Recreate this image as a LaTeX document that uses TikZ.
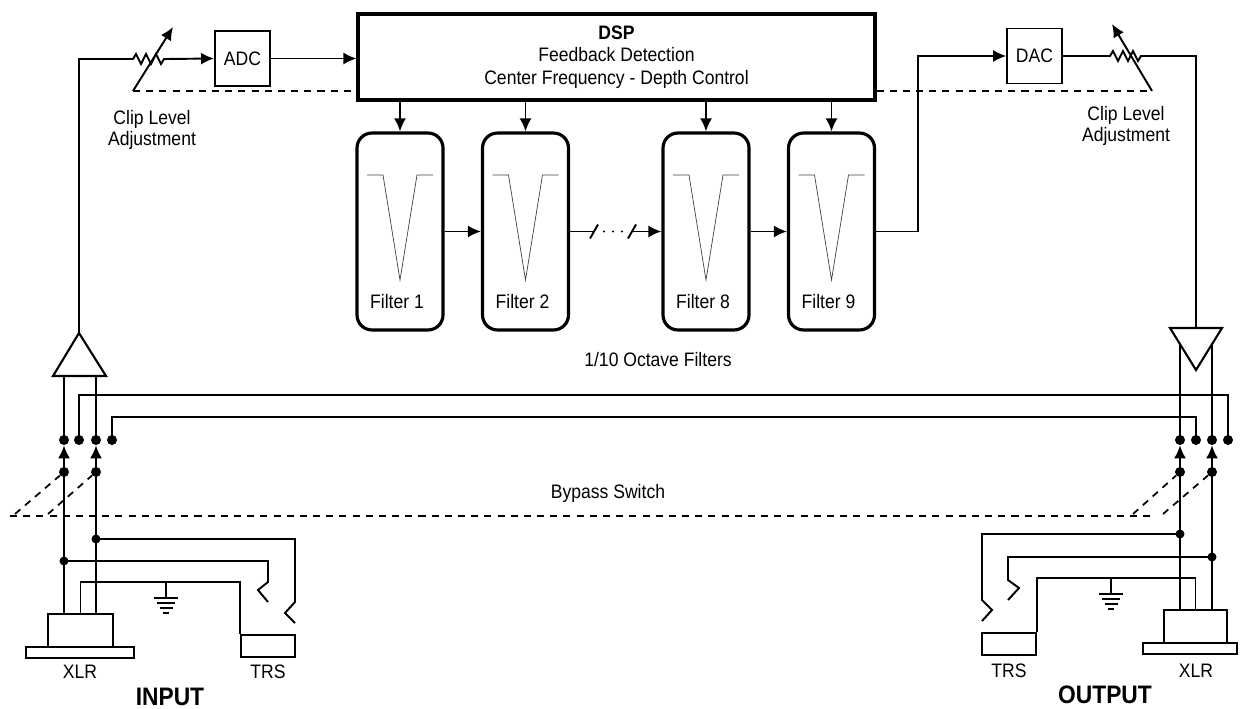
\documentclass[tikz,border=0pt]{standalone}
\usepackage{fontspec}
\setmainfont[FakeStretch=0.9]{Liberation Sans}
\usetikzlibrary{arrows.meta,calc,positioning,shapes}
\tikzset{%
	unit/.style       = {draw, rectangle, line width=1.1pt, minimum width=1.1cm, minimum height=1.1cm, text centered},
	dspunit/.style    = {draw, rectangle, line width=1.8pt, minimum width=10.34cm, minimum height=1.72cm, align=center, font=\fontsize{11.1}{12.8}\selectfont},
	filterunit/.style = {draw, rectangle, rounded corners=0.3cm, line width=1.8pt, minimum width=1.72cm, minimum height=3.94cm},
	jack/.style       = {draw, rectangle, line width=1pt, inner sep=0pt},
	wire/.style       = {line width=1.1pt},
	arrow/.style      = {wire,-{Latex[length=0.26cm,width=0.24cm]}},
	linkage/.style    = {line width=1pt, dash pattern=on 4pt off 3.5pt},
	notch/.style      = {line width=0.4pt, black!75},
	contact/.style    = {circle, fill, inner sep=0pt, minimum size=0.2cm},
	caption/.style    = {align=center, font=\fontsize{11.1}{12}\selectfont},
	endlabel/.style   = {font=\fontsize{14.4}{16}\selectfont\bfseries},
}

\begin{document}
\begin{tikzpicture}[x=0.02cm,y=-0.02cm]
	\useasboundingbox (0,0) rectangle (1240,709);
	
	% processing blocks
	\node[unit, font=\fontsize{11.1}{12}\selectfont] (adc) at (242.5,58.5) {ADC};
	\node[unit, font=\fontsize{11.1}{12}\selectfont] (dac) at (1034.5,56) {DAC};
	\node[dspunit] (dsp) at (616.5,57) {\textbf{DSP}\\Feedback Detection\\Center Frequency - Depth Control};
	\draw[arrow] (adc.east) -- (dsp.west |- adc.east);
	
	% notch filters
	\foreach \n/\x in {1/400,2/525.5,8/706,9/831.5} {
		\node[filterunit] (filt\n) at (\x,231.5) {};
		\node[caption] (flab\n) at (\x-3,302) {Filter \n};
		\draw[notch] (\x-33,175) -- (\x-17,175) -- (\x,280) -- (\x+17,175) -- (\x+33,175);
		\draw[arrow] (dsp.south -| filt\n.north) -- (filt\n.north);
	}
	\draw[arrow] (filt1.east) -- (filt2.west);
	\draw[arrow] (filt8.east) -- (filt9.west);
	\draw[wire] (filt2.east) -- (594,231.5) coordinate (gapL);
	\draw[arrow] (632,231.5) coordinate (gapR) -- (filt8.west);
	\draw[wire] ($(gapL)+(-4,7)$) -- ($(gapL)+(4,-7)$);
	\draw[wire] ($(gapR)+(-4,7)$) -- ($(gapR)+(4,-7)$);
	\foreach \d in {604,613,622} \fill (\d,231.5) circle (0.7pt);
	\draw[arrow, line width=0.7pt] (filt9.east) -- ++(42,0) |- (dac.west);
	\node[caption] (octlab) at (658,360) {1/10 Octave Filters};
	
	% input level
	\coordinate (ampinT) at (79,333);
	\draw[wire, line width=1.2pt] (ampinT) -- (53,376) -- (106,376) -- cycle;
	\draw[arrow] (ampinT) |- (133,59) -- (136,54) -- (141,64) -- (146,54) -- (151,64) -- (156,54) -- (161,64) -- (164,59) -- (167,59) -- (adc.west);
	\draw[arrow] (133,91) coordinate (clipin) -- (173,27);
	\draw[linkage] (clipin) -- (dsp.west |- clipin);
	\node[caption] (clipinlab) at (152,130) {Clip Level\\Adjustment};
	
	% output level
	\coordinate (ampoutT) at (1196,328);
	\draw[wire, line width=1.2pt] (1170,328) -- (1222,328) -- (1196,370) -- cycle;
	\draw[wire] (dac.east) -- (1110,56) -- (1113,51) -- (1118,61) -- (1123,51) -- (1128,61) -- (1133,51) -- (1138,61) -- (1141,56) -- (1143,56) -| (ampoutT);
	\draw[arrow] (1152,91) coordinate (clipout) -- (1112,24);
	\draw[linkage] (dsp.east |- clipout) -- (clipout);
	\node[caption] (clipoutlab) at (1126,126) {Clip Level\\Adjustment};
	
	% bypass switch
	\foreach \s/\x in {1/64,2/79,3/96,4/112} \node[contact] (inU\s) at (\x,440) {};
	\foreach \s/\x in {1/1180,2/1196,3/1212,4/1228} \node[contact] (outU\s) at (\x,440) {};
	\foreach \s/\x in {1/64,3/96} \node[contact] (inL\s) at (\x,472) {};
	\foreach \s/\x in {1/1180,3/1212} \node[contact] (outL\s) at (\x,472) {};
	\foreach \s in {1,3} {
		\draw[arrow] (inL\s) -- (inU\s);
		\draw[arrow] (outL\s) -- (outU\s);
	}
	\coordinate (ampinL) at (64,376);
	\coordinate (ampinR) at (96,376);
	\coordinate (ampoutL) at (1180,344);
	\coordinate (ampoutR) at (1212,344);
	\draw[wire] (ampinL) -- (inU1.center);
	\draw[wire] (ampinR) -- (inU3.center);
	\draw[wire] (ampoutL) -- (outU1.center);
	\draw[wire] (ampoutR) -- (outU3.center);
	\draw[wire] (inU2.center) -- ++(0,-45) -| (outU4.center);
	\draw[wire] (inU4.center) -- ++(0,-23) -| (outU2.center);
	\draw[linkage] (10,516) -- (1152,516);
	\draw[linkage] (15,514) -- (inL1);
	\draw[linkage] (48,514) -- (inL3);
	\draw[linkage] (1133,514) -- (outL1);
	\draw[linkage] (1163,514) -- (outL3);
	\node[caption] (bypasslab) at (608,493) {Bypass Switch};
	
	% input jacks
	\node[jack, minimum width=1.3cm, minimum height=0.66cm] (xlrin) at (80.5,630.5) {};
	\node[jack, minimum width=2.16cm, minimum height=0.22cm] (xlrinbase) at (80,652.5) {};
	\node[jack, minimum width=1.08cm, minimum height=0.44cm] (trsin) at (268,646) {};
	\draw[wire] (inL1.center) -- (xlrin.north -| inL1);
	\draw[wire] (inL3.center) -- (xlrin.north -| inL3);
	\node[contact, minimum size=0.18cm] (inJ1) at (96,539) {};
	\node[contact, minimum size=0.18cm] (inJ2) at (64,561) {};
	\draw[wire] (inJ1.center) -| (295,602) -- (285,613) -- (295,623);
	\draw[wire] (inJ2.center) -| (268,582) -- (258,590) -- (268,602);
	\coordinate (gndin) at (166,582);
	\draw[wire] (xlrin.north) |- (gndin) -| (trsin.north west);
	\draw[wire] (gndin) -- ++(0,16);
	\foreach \w/\dy in {12/16,9/21,6.5/26,3/31} \draw[wire] ($(gndin)+(-\w,\dy)$) -- ($(gndin)+(\w,\dy)$);
	\node[caption] (xlrinlab) at (80,672) {XLR};
	\node[caption] (trsinlab) at (268,672) {TRS};
	\node[endlabel] (inlab) at (170,697) {INPUT};
	
	% output jacks
	\node[jack, minimum width=1.26cm, minimum height=0.66cm] (xlrout) at (1195.5,626.5) {};
	\node[jack, minimum width=1.88cm, minimum height=0.22cm] (xlroutbase) at (1190,648.5) {};
	\node[jack, minimum width=1.08cm, minimum height=0.44cm] (trsout) at (1009,644) {};
	\draw[wire] (outL1.center) -- (xlrout.north -| outL1);
	\draw[wire] (outL3.center) -- (xlrout.north -| outL3);
	\node[contact, minimum size=0.18cm] (outJ1) at (1180,534) {};
	\node[contact, minimum size=0.18cm] (outJ2) at (1212,557) {};
	\draw[wire] (outJ1.center) -| (982,600) -- (992,610) -- (982,621);
	\draw[wire] (outJ2.center) -| (1008,580) -- (1019,588) -- (1008,600);
	\coordinate (gndout) at (1111,578);
	\draw[wire] (xlrout.north) |- (gndout) -| (trsout.north east);
	\draw[wire] (gndout) -- ++(0,16);
	\foreach \w/\dy in {12/16,9/21,6.5/26,3/31} \draw[wire] ($(gndout)+(-\w,\dy)$) -- ($(gndout)+(\w,\dy)$);
	\node[caption] (xlroutlab) at (1196,671) {XLR};
	\node[caption] (trsoutlab) at (1009,671) {TRS};
	\node[endlabel] (outlab) at (1105,695) {OUTPUT};
\end{tikzpicture}
\end{document}
